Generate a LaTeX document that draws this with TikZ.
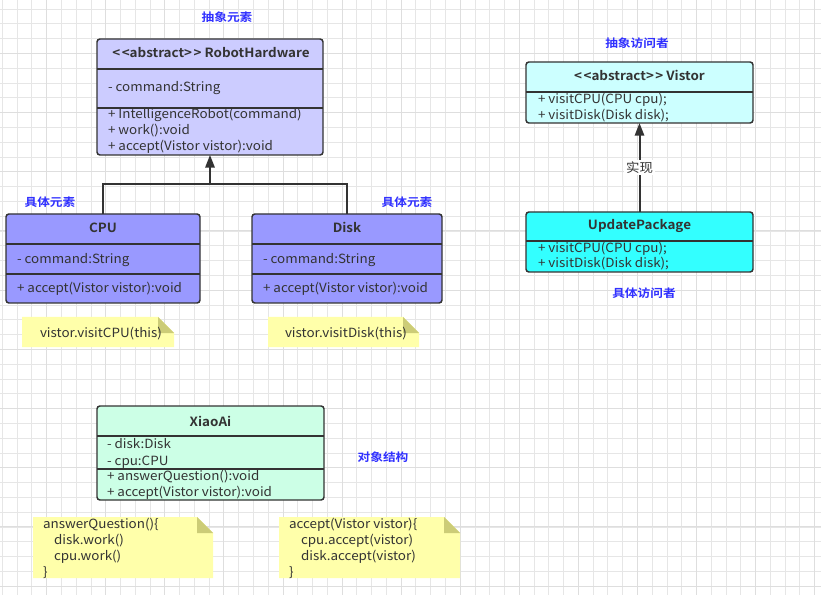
\documentclass[tikz,border=0pt]{standalone}
\usepackage{fontspec}
\setmainfont{Noto Sans CJK SC}[FakeStretch=1.06, BoldFont={Noto Sans CJK SC Bold}]
\newfontfamily\lblfont{Noto Sans CJK SC}[FakeStretch=1.12, BoldFont={Noto Sans CJK SC Bold}]
\usetikzlibrary{arrows.meta}
\definecolor{tcol}{RGB}{51,51,51}
\definecolor{bcol}{RGB}{51,51,51}
\definecolor{lblue}{RGB}{48,48,255}
\definecolor{rhfill}{RGB}{204,204,255}
\definecolor{elfill}{RGB}{153,153,255}
\definecolor{visfill}{RGB}{204,255,255}
\definecolor{upfill}{RGB}{51,255,255}
\definecolor{xafill}{RGB}{204,255,230}
\definecolor{notefill}{RGB}{255,255,170}
\definecolor{foldfill}{RGB}{204,204,119}
\definecolor{gminor}{RGB}{230,230,230}
\definecolor{gmajor}{RGB}{222,222,222}
\newcommand\lt{<\kern0.12em<}
\newcommand\gt{>\kern0.12em>}
\tikzset{
  umlbox/.style={draw=bcol, line width=1.1pt, rounded corners=2.2pt, inner sep=0pt, outer sep=0pt, anchor=north west},
  sepl/.style={draw=bcol, line width=1.1pt},
  conn/.style={draw=bcol, line width=1.5pt},
  tip/.style={-{Triangle[length=9.5pt,width=7pt]}},
  txt/.style={inner sep=0pt, outer sep=0pt, font=\fontsize{9.5}{12}\selectfont, text=tcol, anchor=base west},
  ttl/.style={inner sep=0pt, outer sep=0pt, font=\fontsize{9.5}{12}\selectfont\bfseries, text=tcol, anchor=base},
  bluelbl/.style={inner sep=0pt, outer sep=0pt, font=\lblfont\fontsize{8.5}{10}\selectfont\bfseries, text=lblue, anchor=base},
  midlbl/.style={fill=white, inner sep=1.5pt, font=\fontsize{9.5}{12}\selectfont, text=tcol},
  gridminor/.style={draw=gminor, line width=0.7pt},
  gridmajor/.style={draw=gmajor, line width=0.8pt},
}
\begin{document}
\begin{tikzpicture}[x=0.75pt,y=-0.75pt]
\useasboundingbox (0,0) rectangle (821,595);
\fill[white] (0,0) rectangle (821,595);
% grid
\foreach \i in {0,...,55} {\pgfmathsetmacro\xx{2.36+14.77*\i}\draw[gridminor] (\xx,0) -- (\xx,595);}
\foreach \j in {0,...,40} {\pgfmathsetmacro\yy{9.0+14.8*\j}\draw[gridminor] (0,\yy) -- (821,\yy);}
\foreach \i in {1,...,14} {\pgfmathsetmacro\xx{-12.36+59.08*\i}\draw[gridmajor] (\xx,0) -- (\xx,595);}
\foreach \j in {0,...,9} {\pgfmathsetmacro\yy{53.3+59.2*\j}\draw[gridmajor] (0,\yy) -- (821,\yy);}

% ---------- RobotHardware ----------
\node[umlbox, fill=rhfill, minimum width=226*0.75pt, minimum height=116*0.75pt] (rh) at (97,39) {};
\draw[sepl] (97,69) -- (323,69);
\draw[sepl] (97,108) -- (323,108);
\node[ttl] (rht) at (211,58) {\lt abstract\gt{} RobotHardware};
\node[txt] (rha) at (108,92) {- command:String};
\node[txt] (rhm1) at (108,119) {+ IntelligenceRobot(command)};
\node[txt] (rhm2) at (108,135) {+ work():void};
\node[txt] (rhm3) at (108,151) {+ accept(Vistor vistor):void};
\node[bluelbl] (l1) at (227,22) {抽象元素};

% ---------- CPU ----------
\node[umlbox, fill=elfill, minimum width=194*0.75pt, minimum height=89*0.75pt] (cpu) at (6,214) {};
\draw[sepl] (6,244) -- (200,244);
\draw[sepl] (6,274) -- (200,274);
\node[ttl] (cput) at (103,233) {CPU};
\node[txt] (cpua) at (17,264) {- command:String};
\node[txt] (cpum) at (17,292) {+ accept(Vistor vistor):void};
\node[bluelbl] (l2) at (50,207) {具体元素};

% ---------- Disk ----------
\node[umlbox, fill=elfill, minimum width=190*0.75pt, minimum height=89*0.75pt] (disk) at (252,214) {};
\draw[sepl] (252,244) -- (442,244);
\draw[sepl] (252,274) -- (442,274);
\node[ttl] (diskt) at (347,233) {Disk};
\node[txt] (diska) at (263,264) {- command:String};
\node[txt] (diskm) at (263,292) {+ accept(Vistor vistor):void};
\node[bluelbl] (l3) at (407,207) {具体元素};

% inheritance
\coordinate (jn) at (210,184);
\draw[conn] (cpu.north) |- (jn);
\draw[conn] (disk.north) |- (jn);
\draw[conn, tip] (jn) -- (rh.south);

% notes CPU / Disk
\fill[notefill] (22,317) -- (158,317) -- (174,333) -- (174,347) -- (22,347) -- cycle;
\fill[foldfill] (158,317) -- (174,333) -- (158,333) -- cycle;
\node[txt] (n1) at (40,337) {vistor.visitCPU(this)};
\fill[notefill] (268,317) -- (403,317) -- (419,333) -- (419,347) -- (268,347) -- cycle;
\fill[foldfill] (403,317) -- (419,333) -- (403,333) -- cycle;
\node[txt] (n2) at (285,337) {vistor.visitDisk(this)};

% ---------- Vistor ----------
\node[umlbox, fill=visfill, minimum width=227*0.75pt, minimum height=61*0.75pt] (vis) at (526,62) {};
\draw[sepl] (526,92) -- (753,92);
\node[ttl] (vist) at (639.5,81) {\lt abstract\gt{} Vistor};
\node[txt] (vism1) at (538,104) {+ visitCPU(CPU cpu);};
\node[txt] (vism2) at (538,120) {+ visitDisk(Disk disk);};
\node[bluelbl] (l4) at (637,48) {抽象访问者};

% ---------- UpdatePackage ----------
\node[umlbox, fill=upfill, minimum width=227*0.75pt, minimum height=60*0.75pt] (up) at (526,212) {};
\draw[sepl] (526,241) -- (753,241);
\node[ttl] (upt) at (639.5,230) {UpdatePackage};
\node[txt] (upm1) at (538,253) {+ visitCPU(CPU cpu);};
\node[txt] (upm2) at (538,268) {+ visitDisk(Disk disk);};
\node[bluelbl] (l5) at (644,297) {具体访问者};

\draw[conn, tip] (up.north) -- node[midlbl] (impl) {实现} (vis.south);

% ---------- XiaoAi ----------
\node[umlbox, fill=xafill, minimum width=227*0.75pt, minimum height=94*0.75pt] (xa) at (97,406) {};
\draw[sepl] (97,436) -- (324,436);
\draw[sepl] (97,469) -- (324,469);
\node[ttl] (xat) at (210.5,426) {XiaoAi};
\node[txt] (xaa1) at (107,448) {- disk:Disk};
\node[txt] (xaa2) at (107,465) {- cpu:CPU};
\node[txt] (xam1) at (107,480) {+ answerQuestion():void};
\node[txt] (xam2) at (107,496) {+ accept(Vistor vistor):void};
\node[bluelbl] (l6) at (383,461) {对象结构};

% notes XiaoAi
\fill[notefill] (33,517) -- (197,517) -- (213,533) -- (213,578) -- (33,578) -- cycle;
\fill[foldfill] (197,517) -- (213,533) -- (197,533) -- cycle;
\node[txt] (n3a) at (43,528) {answerQuestion()\{};
\node[txt] (n3b) at (54,544) {disk.work()};
\node[txt] (n3c) at (54,560) {cpu.work()};
\node[txt] (n3d) at (43,576) {\}};
\fill[notefill] (279,517) -- (444,517) -- (460,533) -- (460,578) -- (279,578) -- cycle;
\fill[foldfill] (444,517) -- (460,533) -- (444,533) -- cycle;
\node[txt] (n4a) at (289,528) {accept(Vistor vistor)\{};
\node[txt] (n4b) at (301,544) {cpu.accept(vistor)};
\node[txt] (n4c) at (301,560) {disk.accept(vistor)};
\node[txt] (n4d) at (289,576) {\}};
\end{tikzpicture}
\end{document}
